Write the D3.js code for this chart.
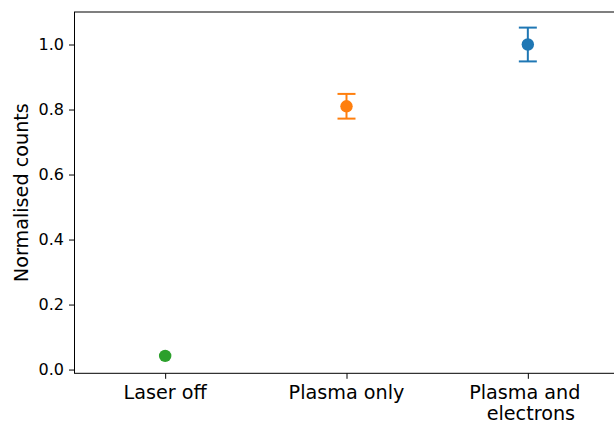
<!DOCTYPE html>
<html>
<head>
<meta charset="utf-8">
<script src="https://cdn.jsdelivr.net/npm/d3@7"></script>
<style>
  body { margin: 0; background: #ffffff; }
  svg text { font-family: "DejaVu Sans", sans-serif; fill: #000; }
</style>
</head>
<body>
<svg id="chart" width="614" height="423"></svg>
<script>
// data
const categories = ["Laser off", "Plasma only", "Plasma and \n electrons"];
const counts     = [0.042, 0.81, 1.0];
const countErr   = [0.003, 0.038, 0.052];
const dotColors  = ["#2ca02c", "#ff7f0e", "#1f77b4"];
const capHalf    = [0, 9, 9];  // laser-off point shows no caps
const yTicks     = [0.0, 0.2, 0.4, 0.6, 0.8, 1.0];

const box = { left: 74.5, right: 618.5, top: 12, bottom: 373.3 };

const svg = d3.select("#chart");

const x = d3.scaleLinear().domain([-0.5, 2.5]).range([box.left, box.right]);
const y = d3.scaleLinear().domain([-0.0115, 1.1]).range([box.bottom, box.top]);

// y axis
const yAxis = svg.append("g")
  .attr("transform", "translate(" + box.left + ",0)")
  .call(d3.axisLeft(y).tickValues(yTicks).tickFormat(d3.format(".1f")).tickSize(5.5).tickPadding(5));
yAxis.select(".domain").remove();
yAxis.selectAll("line").attr("stroke", "#000").attr("stroke-width", 1);
yAxis.selectAll("text").style("font-size", "16px").style("font-family", "DejaVu Sans");

// x axis
const xAxis = svg.append("g")
  .attr("transform", "translate(0," + box.bottom + ")")
  .call(d3.axisBottom(x).tickValues([0, 1, 2]).tickFormat(() => "").tickSize(5.5));
xAxis.select(".domain").remove();
xAxis.selectAll("line").attr("stroke", "#000").attr("stroke-width", 1);

// multi-line category labels (spaces kept, each line centred on its own)
const catLabels = svg.append("g");
categories.forEach((c, i) => {
  const t = catLabels.append("text")
    .attr("x", x(i))
    .attr("y", 399)
    .attr("text-anchor", "middle")
    .style("white-space", "pre")
    .style("font-size", "19.2px");
  c.split("\n").forEach((line, j) => {
    t.append("tspan").attr("x", x(i)).attr("dy", j == 0 ? 0 : 21).text(line);
  });
});

// frame
svg.append("rect")
  .attr("x", box.left).attr("y", box.top)
  .attr("width", box.right - box.left).attr("height", box.bottom - box.top)
  .attr("fill", "none").attr("stroke", "#000").attr("stroke-width", 1);

// y label
svg.append("text")
  .attr("transform", "translate(28," + ((box.top + box.bottom) / 2) + ") rotate(-90)")
  .attr("text-anchor", "middle")
  .style("font-size", "19.2px")
  .text("Normalised counts");

// error bars with caps
const pts = categories.map((c, i) => ({ i: i, v: counts[i], e: countErr[i], col: dotColors[i], cap: capHalf[i] }));
const bars = svg.append("g").selectAll("g").data(pts).enter().append("g")
  .attr("stroke", d => d.col).attr("stroke-width", 2);
bars.append("line")
  .attr("x1", d => x(d.i)).attr("x2", d => x(d.i))
  .attr("y1", d => y(d.v - d.e)).attr("y2", d => y(d.v + d.e));
bars.filter(d => d.cap > 0).append("line")
  .attr("x1", d => x(d.i) - d.cap).attr("x2", d => x(d.i) + d.cap)
  .attr("y1", d => y(d.v + d.e)).attr("y2", d => y(d.v + d.e));
bars.filter(d => d.cap > 0).append("line")
  .attr("x1", d => x(d.i) - d.cap).attr("x2", d => x(d.i) + d.cap)
  .attr("y1", d => y(d.v - d.e)).attr("y2", d => y(d.v - d.e));

svg.append("g").selectAll("circle").data(pts).enter().append("circle")
  .attr("cx", d => x(d.i)).attr("cy", d => y(d.v))
  .attr("r", 6.2)
  .attr("fill", d => d.col);
</script>
</body>
</html>
